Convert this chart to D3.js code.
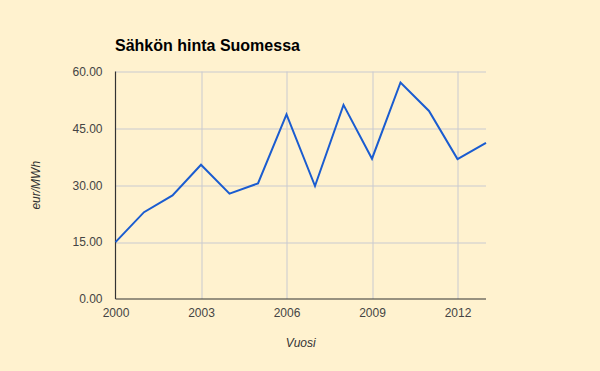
<!DOCTYPE html>
<html>
<head>
<meta charset="utf-8">
<script src="https://cdn.jsdelivr.net/npm/d3@7"></script>
<style>
  html, body { margin: 0; padding: 0; background: #FFF2CF; }
  svg { display: block; font-family: Arial, "Liberation Sans", sans-serif; }
</style>
</head>
<body>
<div id="chart"></div>
<script>
// Electricity price in Finland, eur/MWh
const years = [2000, 2001, 2002, 2003, 2004, 2005, 2006, 2007, 2008, 2009, 2010, 2011, 2012, 2013];
const prices = [15.0, 22.9, 27.3, 35.4, 27.8, 30.5, 48.7, 29.8, 51.2, 37.0, 57.1, 49.6, 36.9, 41.2];
const xTicks = [2000, 2003, 2006, 2009, 2012];
const yTicks = [0, 15, 30, 45, 60];

const W = 600, H = 371;
const margin = { top: 71.5, right: 114, bottom: 72, left: 115.5 };
const width = W - margin.left - margin.right;
const height = H - margin.top - margin.bottom;

const svg = d3.select('#chart').append('svg')
    .attr('width', W)
    .attr('height', H);

svg.append('rect')
    .attr('width', W)
    .attr('height', H)
    .attr('fill', '#FFF2CF');

const g = svg.append('g')
    .attr('transform', `translate(${margin.left}, ${margin.top})`);

const x = d3.scaleLinear().domain([2000, 2013]).range([0, width]);
const y = d3.scaleLinear().domain([0, 60]).range([height, 0]);

// Gridlines
g.append('g')
    .selectAll('line')
    .data(yTicks.filter(d => d > 0))
    .enter()
    .append('line')
    .attr('x1', 0)
    .attr('x2', width)
    .attr('y1', d => Math.round(y(d)) + 0.5)
    .attr('y2', d => Math.round(y(d)) + 0.5)
    .attr('stroke', '#C9CAD0')
    .attr('stroke-width', 1);

g.append('g')
    .selectAll('line')
    .data(xTicks.filter(d => d > 2000))
    .enter()
    .append('line')
    .attr('x1', d => Math.round(x(d)) + 0.5)
    .attr('x2', d => Math.round(x(d)) + 0.5)
    .attr('y1', 0)
    .attr('y2', height)
    .attr('stroke', '#C9CAD0')
    .attr('stroke-width', 1);

// Axes
const yAxis = d3.axisLeft(y)
    .tickValues(yTicks)
    .tickSize(0)
    .tickPadding(13)
    .tickFormat(d3.format('.2f'));

const xAxis = d3.axisBottom(x)
    .tickValues(xTicks)
    .tickSize(0)
    .tickPadding(9)
    .tickFormat(d3.format('d'));

const yG = g.append('g').call(yAxis);
const xG = g.append('g').attr('transform', `translate(0, ${height})`).call(xAxis);

[yG, xG].forEach(ax => {
    ax.select('.domain').remove();
    ax.selectAll('text')
        .attr('font-size', '12px')
        .attr('font-family', 'Arial, "Liberation Sans", sans-serif')
        .attr('fill', '#444444');
});

// Baseline and left axis line
g.append('line')
    .attr('x1', 0).attr('x2', width)
    .attr('y1', height).attr('y2', height)
    .attr('stroke', '#333333')
    .attr('stroke-width', 1.2);

g.append('line')
    .attr('x1', 0).attr('x2', 0)
    .attr('y1', 0).attr('y2', height)
    .attr('stroke', '#333333')
    .attr('stroke-width', 1.2);

// Price line
const line = d3.line()
    .x((d, i) => x(years[i]))
    .y(d => y(d));

g.append('path')
    .datum(prices)
    .attr('fill', 'none')
    .attr('stroke', '#1A5CD0')
    .attr('stroke-width', 2)
    .attr('stroke-linejoin', 'miter')
    .attr('d', line);

// Title
svg.append('text')
    .attr('x', 115)
    .attr('y', 51)
    .attr('font-size', '16px')
    .attr('font-weight', 'bold')
    .attr('fill', '#000000')
    .text('Sähkön hinta Suomessa');

// Axis titles
svg.append('text')
    .attr('x', margin.left + width / 2)
    .attr('y', 347)
    .attr('text-anchor', 'middle')
    .attr('font-size', '12px')
    .attr('font-style', 'italic')
    .attr('fill', '#333333')
    .text('Vuosi');

svg.append('text')
    .attr('transform', `translate(40, ${margin.top + height / 2}) rotate(-90)`)
    .attr('text-anchor', 'middle')
    .attr('font-size', '12px')
    .attr('font-style', 'italic')
    .attr('fill', '#333333')
    .text('eur/MWh');
</script>
</body>
</html>
